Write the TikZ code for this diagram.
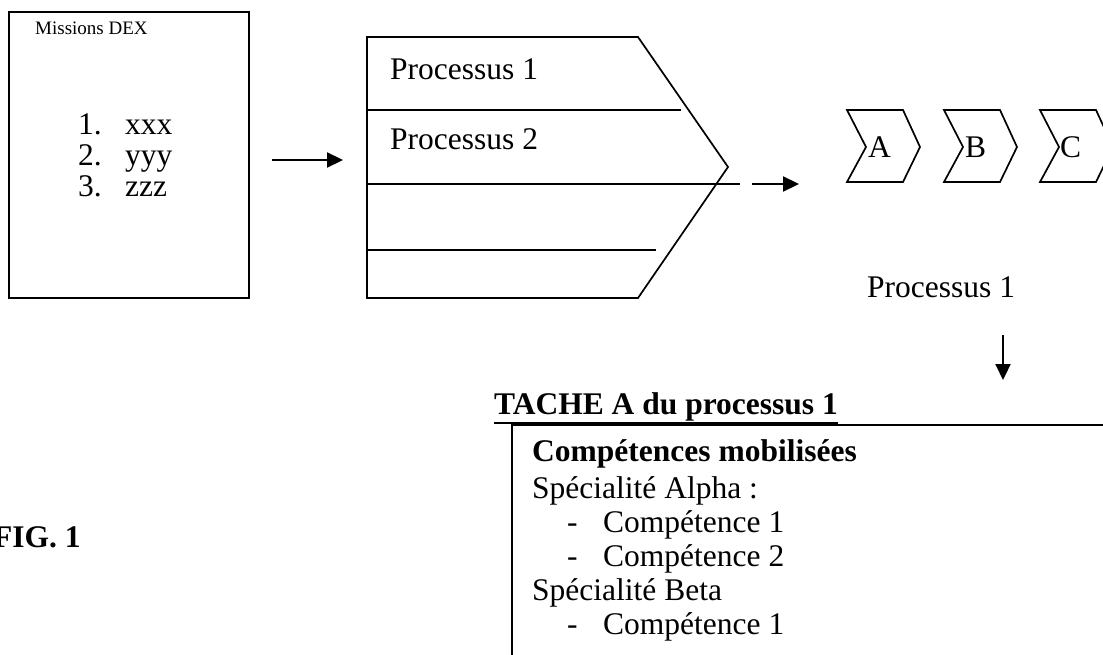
\documentclass[tikz,border=0pt]{standalone}
\usepackage{fontspec}
\setmainfont{Liberation Serif}
\usetikzlibrary{arrows.meta}
\begin{document}
\begin{tikzpicture}[x=1pt,y=-1pt,
  txt/.style={inner sep=0pt, anchor=base west, font=\fontsize{31.5}{36}\selectfont},
  btxt/.style={inner sep=0pt, anchor=base west, font=\fontsize{31.5}{36}\selectfont\bfseries},
  smalltxt/.style={inner sep=0pt, anchor=base west, font=\fontsize{19}{23}\selectfont},
  arr/.style={-{Triangle[length=16pt,width=15pt]}, line width=2.2pt},
  shp/.style={draw, line width=1.7pt, line join=miter},
  rule/.style={line width=1.7pt}]
\useasboundingbox (0,0) rectangle (1103,655);
\clip (0,0) rectangle (1103,655);

% Missions box
\node[shp, anchor=north west, minimum width=240pt, minimum height=286pt, inner sep=0pt] (dex) at (8,11) {};
\node[smalltxt] (dextitle) at (35,35) {Missions DEX};
\node[txt] (n1) at (78,135) {1.};
\node[txt] (l1) at (125,135) {xxx};
\node[txt] (n2) at (78,166) {2.};
\node[txt] (l2) at (125,166) {yyy};
\node[txt] (n3) at (78,197) {3.};
\node[txt] (l3) at (125,197) {zzz};

% arrow 1
\coordinate (a1s) at (272,160);
\coordinate (a1e) at (343,160);
\draw[arr] (a1s) -- (a1e);

% big chevron
\draw[shp] (367,37) -- (638,37) -- (728,167) -- (638,298) -- (367,298) -- cycle;
\draw[rule] (367,110) -- (681,110);
\draw[rule] (367,184) -- (740,184);
\draw[rule] (367,250) -- (656,250);
\node[txt] (p1) at (390,80) {Processus 1};
\node[txt] (p2) at (390,150) {Processus 2};

% arrow 2
\coordinate (a2s) at (752,184);
\coordinate (a2e) at (799,184);
\draw[arr] (a2s) -- (a2e);

% small chevrons
\foreach \x/\l/\dx in {847/A/21,944/B/21,1040/C/20}{
  \draw[shp] (\x,110) -- ++(56,0) -- ++(17,37) -- ++(-17,35) -- ++(-56,0) -- ++(19,-35) -- cycle;
  \node[txt] (ch\l) at ({\x+\dx},158) {\l};
}
\node[txt] (proc1) at (867,297) {Processus 1};

% down arrow
\coordinate (a3s) at (1003,335);
\coordinate (a3e) at (1003,380);
\draw[arr] (a3s) -- (a3e);

% Tache
\node[btxt] (tache) at (494,414) {TACHE A du processus 1};
\draw[line width=2pt] ([yshift=-9pt]tache.base west) -- ([yshift=-9pt]tache.base east);
\draw[rule] (512,665) -- (512,425) -- (1110,425);
\node[btxt] (comp) at (532,461) {Compétences mobilisées};
\node[txt] (alpha) at (532,498) {Spécialité Alpha :};
\node[txt] (d1) at (567,532) {-};
\node[txt] (c1) at (603,532) {Compétence 1};
\node[txt] (d2) at (567,566) {-};
\node[txt] (c2) at (603,566) {Compétence 2};
\node[txt] (beta) at (532,600) {Spécialité Beta};
\node[txt] (d3) at (567,634) {-};
\node[txt] (c3) at (603,634) {Compétence 1};

% FIG
\node[btxt] (fig) at (-7,547) {FIG. 1};
\end{tikzpicture}
\end{document}
